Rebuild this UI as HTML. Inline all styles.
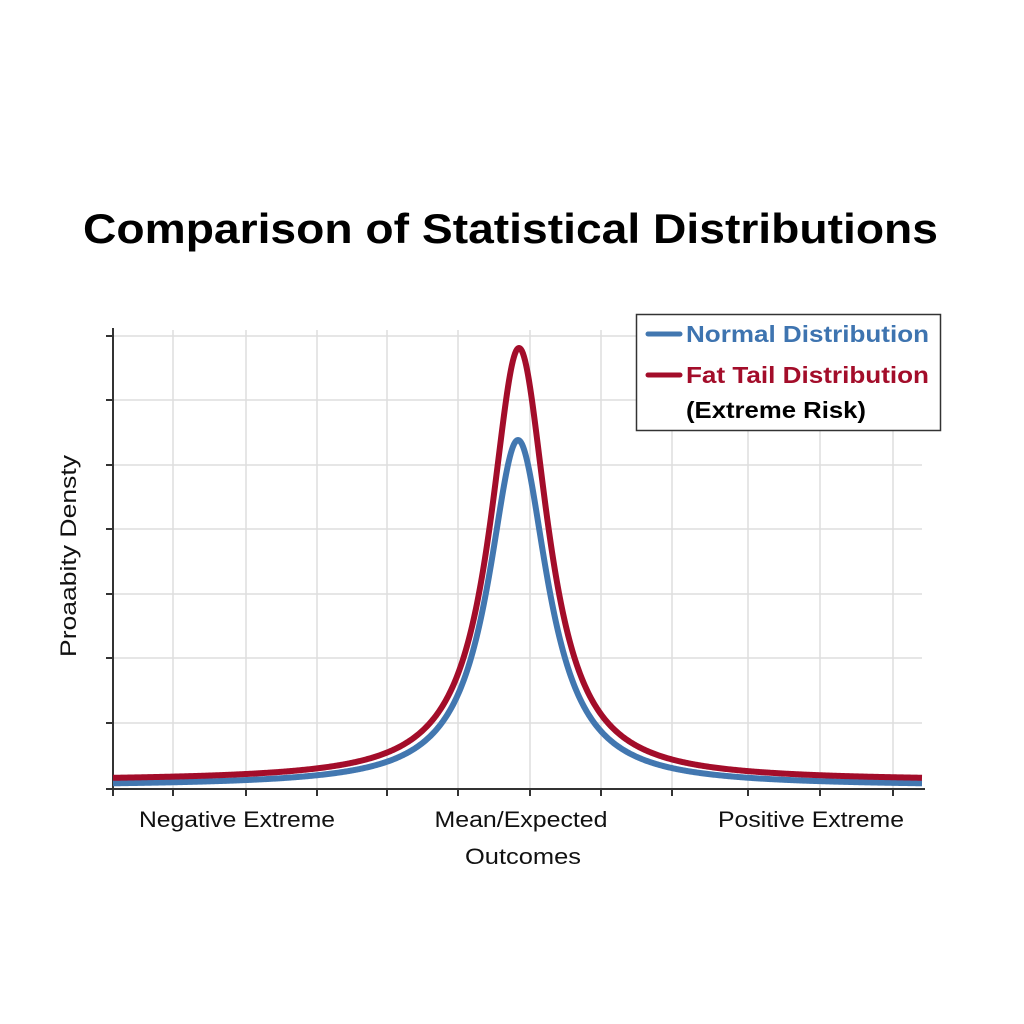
<!DOCTYPE html>
<html><head><style>
html,body{margin:0;padding:0;background:#fff;}
svg{display:block;font-family:"Liberation Sans",Arial,sans-serif;}
</style></head><body>
<svg width="1024" height="1024" viewBox="0 0 1024 1024" xmlns="http://www.w3.org/2000/svg">
<rect width="1024" height="1024" fill="#fff"/>
<text x="83" y="243" font-size="42" font-weight="bold" fill="#000" textLength="855" lengthAdjust="spacingAndGlyphs">Comparison of Statistical Distributions</text>
<g stroke="#dedede" stroke-width="1.5">
<line x1="113" y1="336" x2="922" y2="336"/><line x1="113" y1="400" x2="922" y2="400"/>
<line x1="113" y1="465" x2="922" y2="465"/><line x1="113" y1="529" x2="922" y2="529"/>
<line x1="113" y1="594" x2="922" y2="594"/><line x1="113" y1="658" x2="922" y2="658"/>
<line x1="113" y1="723" x2="922" y2="723"/>
<line x1="173" y1="330" x2="173" y2="789"/><line x1="246" y1="330" x2="246" y2="789"/>
<line x1="317" y1="330" x2="317" y2="789"/><line x1="387" y1="330" x2="387" y2="789"/>
<line x1="458" y1="330" x2="458" y2="789"/><line x1="530" y1="330" x2="530" y2="789"/>
<line x1="601" y1="330" x2="601" y2="789"/><line x1="672" y1="330" x2="672" y2="789"/>
<line x1="748" y1="330" x2="748" y2="789"/><line x1="820" y1="330" x2="820" y2="789"/>
<line x1="893" y1="330" x2="893" y2="789"/>
</g>
<g stroke="#333" stroke-width="2">
<line x1="113" y1="328" x2="113" y2="790"/>
<line x1="106" y1="789" x2="925" y2="789"/>
<line x1="106" y1="336" x2="113" y2="336"/><line x1="106" y1="400" x2="113" y2="400"/>
<line x1="106" y1="465" x2="113" y2="465"/><line x1="106" y1="529" x2="113" y2="529"/>
<line x1="106" y1="594" x2="113" y2="594"/><line x1="106" y1="658" x2="113" y2="658"/>
<line x1="106" y1="723" x2="113" y2="723"/>
<line x1="113" y1="789" x2="113" y2="796"/><line x1="173" y1="789" x2="173" y2="796"/>
<line x1="246" y1="789" x2="246" y2="796"/><line x1="317" y1="789" x2="317" y2="796"/>
<line x1="387" y1="789" x2="387" y2="796"/><line x1="458" y1="789" x2="458" y2="796"/>
<line x1="530" y1="789" x2="530" y2="796"/><line x1="601" y1="789" x2="601" y2="796"/>
<line x1="672" y1="789" x2="672" y2="796"/><line x1="748" y1="789" x2="748" y2="796"/>
<line x1="820" y1="789" x2="820" y2="796"/><line x1="893" y1="789" x2="893" y2="796"/>
</g>
<path id="blue" fill="none" stroke="#4277b0" stroke-width="6" stroke-linejoin="round"/>
<path id="red" fill="none" stroke="#a30d2a" stroke-width="6" stroke-linejoin="round"/>
<script>
function mk(id,base,A,w,c){var d="";for(var x=113;x<=922;x+=1){var t=(x-c)/w;var y=base-A/(1+t*t);d+=(x==113?"M":"L")+x+","+y.toFixed(2);}document.getElementById(id).setAttribute("d",d);}
mk("blue",786,346,36,518);
mk("red",781,433,35,519);
</script>
<rect x="636.5" y="314.5" width="304" height="116" fill="#fff" stroke="#333" stroke-width="1.5"/>
<line x1="648" y1="334" x2="680" y2="334" stroke="#4277b0" stroke-width="5" stroke-linecap="round"/>
<line x1="648" y1="375" x2="680" y2="375" stroke="#a30d2a" stroke-width="5" stroke-linecap="round"/>
<text x="686" y="342" font-size="23" font-weight="bold" fill="#3e74b0" textLength="243" lengthAdjust="spacingAndGlyphs">Normal Distribution</text>
<text x="686" y="383" font-size="23" font-weight="bold" fill="#a30d2a" textLength="243" lengthAdjust="spacingAndGlyphs">Fat Tail Distribution</text>
<text x="686" y="418" font-size="23" font-weight="bold" fill="#000" textLength="180" lengthAdjust="spacingAndGlyphs">(Extreme Risk)</text>
<text transform="translate(76,556) rotate(-90)" text-anchor="middle" font-size="22" fill="#111" textLength="202" lengthAdjust="spacingAndGlyphs">Proaabity Densty</text>
<text x="237" y="827" text-anchor="middle" font-size="22" fill="#111" textLength="196" lengthAdjust="spacingAndGlyphs">Negative Extreme</text>
<text x="521" y="827" text-anchor="middle" font-size="22" fill="#111" textLength="173" lengthAdjust="spacingAndGlyphs">Mean/Expected</text>
<text x="523" y="864" text-anchor="middle" font-size="22" fill="#111" textLength="116" lengthAdjust="spacingAndGlyphs">Outcomes</text>
<text x="811" y="827" text-anchor="middle" font-size="22" fill="#111" textLength="186" lengthAdjust="spacingAndGlyphs">Positive Extreme</text>
</svg>
</body></html>
